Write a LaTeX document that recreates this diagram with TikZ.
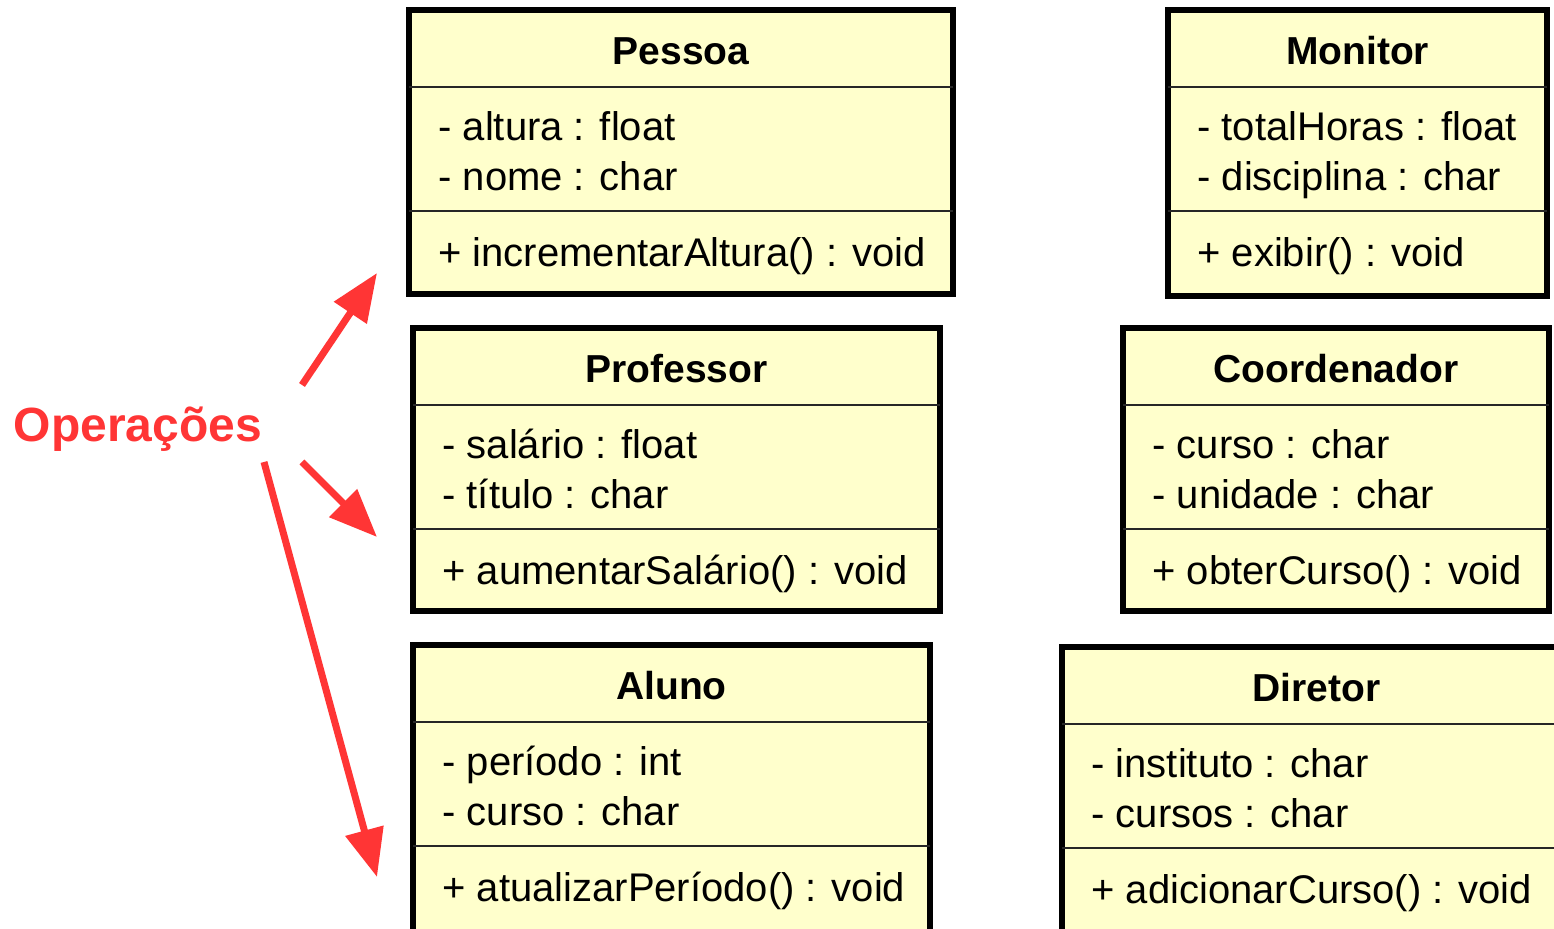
\documentclass[tikz,border=0pt]{standalone}
\usepackage{fontspec}
\setmainfont{Liberation Sans}
\usetikzlibrary{arrows.meta}
\definecolor{umlfill}{HTML}{FFFFCC}
\definecolor{opred}{HTML}{FF3535}
\tikzset{
  classframe/.style={draw=black, line width=2.6pt, fill=umlfill},
  divider/.style={draw=black!85, line width=1.3pt},
  classtitle/.style={anchor=base, font=\bfseries\fontsize{19.5}{22}\selectfont, inner sep=0pt},
  member/.style={anchor=base west, font=\fontsize{20}{22}\selectfont, inner sep=0pt},
  oplabel/.style={anchor=base, font=\bfseries\fontsize{24}{26}\selectfont, text=opred, inner sep=0pt},
  pointer/.style={draw=opred, line width=3.5pt, -{Triangle[length=24pt,width=19pt]}},
}
% #1 name, #2 x1, #3 y1, #4 x2, #5 y2, #6 title, #7 attr1, #8 attr2, #9 operation
\newcommand\umlclassbox[9]{%
  \draw[classframe] (#2,#3) rectangle (#4,#5);
  \draw[divider] (#2,{#3+77}) -- (#4,{#3+77});
  \draw[divider] (#2,{#3+201}) -- (#4,{#3+201});
  \node[classtitle] (#1-title) at ({(#2+#4)/2},{#3+55}) {#6};
  \node[member] (#1-a1) at ({#2+29},{#3+131}) {#7};
  \node[member] (#1-a2) at ({#2+29},{#3+181}) {#8};
  \node[member] (#1-op) at ({#2+29},{#3+257}) {#9};
}
\begin{document}
\begin{tikzpicture}[x=0.5pt,y=-0.5pt]
  \useasboundingbox (0,0) rectangle (1554,929);
  \clip (0,0) rectangle (1554,929);
  \fill[white] (0,0) rectangle (1554,929);

  \umlclassbox{pessoa}{409}{10}{953}{294}{Pessoa}{- altura : float}{- nome : char}{+ incrementarAltura() : void}
  \umlclassbox{monitor}{1168}{10}{1547}{296}{Monitor}{- totalHoras : float}{- disciplina : char}{+ exibir() : void}
  \umlclassbox{professor}{413}{328}{940}{611}{Professor}{- salário : float}{- título : char}{+ aumentarSalário() : void}
  \umlclassbox{coord}{1123}{328}{1549}{611}{Coordenador}{- curso : char}{- unidade : char}{+ obterCurso() : void}
  \umlclassbox{aluno}{413}{645}{930}{935}{Aluno}{- período : int}{- curso : char}{+ atualizarPeríodo() : void}
  \umlclassbox{diretor}{1062}{647}{1571}{935}{Diretor}{- instituto : char}{- cursos : char}{+ adicionarCurso() : void}

  \node[oplabel] (ops) at (138,442) {Operações};

  \coordinate (t1) at (302,385);
  \coordinate (h1) at (377,273);
  \coordinate (t2) at (302,462);
  \coordinate (h2) at (377,537);
  \coordinate (t3) at (264,462);
  \coordinate (h3) at (377,877);
  \draw[pointer] (t1) -- (h1);
  \draw[pointer] (t2) -- (h2);
  \draw[pointer] (t3) -- (h3);
\end{tikzpicture}
\end{document}
